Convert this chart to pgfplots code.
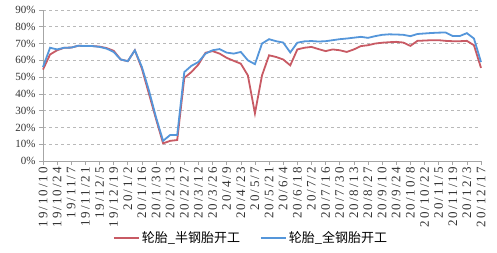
\documentclass[border=0pt]{standalone}
\usepackage{pgfplots}
\pgfplotsset{compat=1.18}
\usepackage{pgfplotstable}
\usepackage{fontspec}
\setmainfont{Liberation Serif}
\newfontfamily\tickfont[LetterSpace=15]{Liberation Serif}
\newfontfamily\cjk{Noto Sans CJK SC}
\definecolor{semired}{RGB}{200,90,100}
\definecolor{allblue}{RGB}{85,150,218}
\pgfplotstableread{
i semi all
0 54.5 56
1 63.5 67.5
2 66 66.5
3 67.5 67.5
4 67.6 67.6
5 68.7 68.7
6 68.5 68.5
7 68.5 68.5
8 68.2 68
9 67.3 67
10 65.7 65
11 60.5 60.5
12 59.5 59.5
13 66 66
14 55 56
15 40 42
16 25 26
17 10.5 12
18 12 15.5
19 12.5 15.5
20 49.5 53
21 53 56.7
22 57.5 59
23 64.5 64
24 65.5 66
25 64 66.7
26 61.5 64.6
27 59.7 64
28 58 65
29 51 60
30 28.4 57.7
31 51 70
32 63 72.6
33 62 71.4
34 60.5 70.6
35 57 64.7
36 66.5 70.5
37 67.5 71.3
38 68 71.5
39 66.7 71.2
40 65.5 71.4
41 66.5 72
42 66 72.6
43 65 73
44 66.5 73.5
45 68.5 74
46 69 73.4
47 70 74.4
48 70.5 75.2
49 70.8 75.5
50 71 75.4
51 70.6 75.2
52 68.6 74.4
53 71.6 75.7
54 71.8 76
55 72 76.3
56 72 76.5
57 71.6 76.6
58 71.4 74.5
59 71.4 74.5
60 71.6 76.2
61 69 73
62 55.5 59
}\datatable
\begin{document}
\begin{tikzpicture}
\useasboundingbox (0,0) rectangle (497pt,253pt);
\begin{axis}[
  at={(43pt,92pt)}, anchor=south west,
  scale only axis, width=438pt, height=151pt,
  xmin=0, xmax=62, ymin=0, ymax=90,
  axis x line*=bottom, axis y line*=left,
  axis line style={-, color=gray!70},
  tick style={color=gray!70, line width=0.6pt},
  tick align=outside, major tick length=4pt,
  xtick={0,2,...,62},
  xticklabels={19/10/10,19/10/24,19/11/7,19/11/21,19/12/5,19/12/19,20/1/2,20/1/16,20/1/30,20/2/13,20/2/27,20/3/12,20/3/26,20/4/9,20/4/23,20/5/7,20/5/21,20/6/4,20/6/18,20/7/2,20/7/16,20/7/30,20/8/13,20/8/27,20/9/10,20/9/24,20/10/8,20/10/22,20/11/5,20/11/19,20/12/3,20/12/17},
  xticklabel style={rotate=90, anchor=east, font=\tickfont\fontsize{13}{13}\selectfont, color=black!80, inner sep=2pt},
  ytick={0,10,...,90},
  yticklabels={0\%,10\%,20\%,30\%,40\%,50\%,60\%,70\%,80\%,90\%},
  yticklabel style={font=\fontsize{11}{11}\selectfont, color=black!80},
  ymajorgrids, grid style={dashed, color=gray!55, line width=0.6pt},
  clip=false,
  legend columns=2,
  legend style={draw=none, at={(0.475,-0.51)}, anchor=center,
    font=\cjk\fontsize{13}{13}\selectfont,
    /tikz/every even column/.append style={column sep=18pt}},
  legend image code/.code={\draw[#1] (0pt,0pt) -- (25pt,0pt);},
]
\addplot[semired, line width=1.8pt] table[x=i, y=semi] {\datatable};
\addlegendentry{轮胎\_半钢胎开工}
\addplot[allblue, line width=1.8pt] table[x=i, y=all] {\datatable};
\addlegendentry{轮胎\_全钢胎开工}
\end{axis}
\end{tikzpicture}
\end{document}
